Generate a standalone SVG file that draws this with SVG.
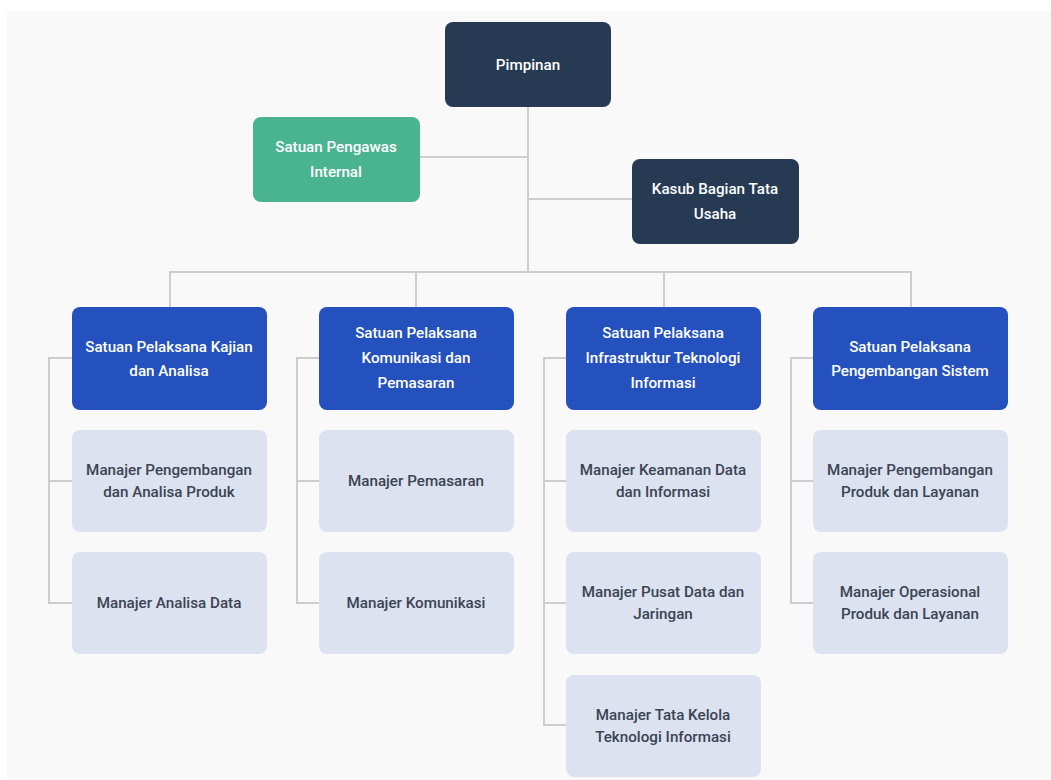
<svg xmlns="http://www.w3.org/2000/svg" width="1051" height="780" viewBox="0 0 1051 780">
<style>
.t{font-family:Roboto,"Liberation Sans",Arial,sans-serif;font-size:15.2px;font-weight:500;text-anchor:middle}
.w{fill:#ffffff}
.d{fill:#3b4454}
.navy{fill:#263a54}
.green{fill:#4ab491}
.blue{fill:#2451bd}
.gray{fill:#dce2ef}
.ln{stroke:#cdcdcd;stroke-width:2;fill:none}
</style>
<rect x="0" y="0" width="1051" height="780" fill="#ffffff"/>
<rect x="7" y="11" width="1044" height="769" fill="#f9f9f9"/>
<g id="connectors" class="ln">
<path d="M528 107V272M420 157H528M528 199H632"/>
<path d="M170 307V272H911V307M416 272V307M664 272V307"/>
<path d="M72 358H49V603H72M49 481H72"/>
<path d="M319 358H297V603H319M297 481H319"/>
<path d="M566 358H544V725H566M544 481H566M544 603H566"/>
<path d="M813 358H791V603H813M791 481H813"/>
</g>
<g id="pimpinan"><rect class="navy" x="445" y="22" width="166" height="85" rx="8"/><text class="t w" x="528" y="70">Pimpinan</text></g>
<g id="spi"><rect class="green" x="253" y="117" width="167" height="85" rx="8"/><text class="t w" x="336" y="152">Satuan Pengawas</text><text class="t w" x="336" y="177">Internal</text></g>
<g id="kasub"><rect class="navy" x="632" y="159" width="167" height="85" rx="8"/><text class="t w" x="715" y="194">Kasub Bagian Tata</text><text class="t w" x="715" y="219">Usaha</text></g>
<g id="sp1"><rect class="blue" x="72" y="307" width="195" height="103" rx="8"/><text class="t w" x="169" y="352">Satuan Pelaksana Kajian</text><text class="t w" x="169" y="376">dan Analisa</text></g>
<g id="sp2"><rect class="blue" x="319" y="307" width="195" height="103" rx="8"/><text class="t w" x="416" y="338">Satuan Pelaksana</text><text class="t w" x="416" y="363">Komunikasi dan</text><text class="t w" x="416" y="388">Pemasaran</text></g>
<g id="sp3"><rect class="blue" x="566" y="307" width="195" height="103" rx="8"/><text class="t w" x="663" y="338">Satuan Pelaksana</text><text class="t w" x="663" y="363">Infrastruktur Teknologi</text><text class="t w" x="663" y="388">Informasi</text></g>
<g id="sp4"><rect class="blue" x="813" y="307" width="195" height="103" rx="8"/><text class="t w" x="910" y="352">Satuan Pelaksana</text><text class="t w" x="910" y="376">Pengembangan Sistem</text></g>
<g id="m11"><rect class="gray" x="72" y="430" width="195" height="102" rx="8"/><text class="t d" x="169" y="475">Manajer Pengembangan</text><text class="t d" x="169" y="497">dan Analisa Produk</text></g>
<g id="m12"><rect class="gray" x="72" y="552" width="195" height="102" rx="8"/><text class="t d" x="169" y="608">Manajer Analisa Data</text></g>
<g id="m21"><rect class="gray" x="319" y="430" width="195" height="102" rx="8"/><text class="t d" x="416" y="486">Manajer Pemasaran</text></g>
<g id="m22"><rect class="gray" x="319" y="552" width="195" height="102" rx="8"/><text class="t d" x="416" y="608">Manajer Komunikasi</text></g>
<g id="m31"><rect class="gray" x="566" y="430" width="195" height="102" rx="8"/><text class="t d" x="663" y="475">Manajer Keamanan Data</text><text class="t d" x="663" y="497">dan Informasi</text></g>
<g id="m32"><rect class="gray" x="566" y="552" width="195" height="102" rx="8"/><text class="t d" x="663" y="597">Manajer Pusat Data dan</text><text class="t d" x="663" y="619">Jaringan</text></g>
<g id="m33"><rect class="gray" x="566" y="675" width="195" height="102" rx="8"/><text class="t d" x="663" y="720">Manajer Tata Kelola</text><text class="t d" x="663" y="742">Teknologi Informasi</text></g>
<g id="m41"><rect class="gray" x="813" y="430" width="195" height="102" rx="8"/><text class="t d" x="910" y="475">Manajer Pengembangan</text><text class="t d" x="910" y="497">Produk dan Layanan</text></g>
<g id="m42"><rect class="gray" x="813" y="552" width="195" height="102" rx="8"/><text class="t d" x="910" y="597">Manajer Operasional</text><text class="t d" x="910" y="619">Produk dan Layanan</text></g>
</svg>
